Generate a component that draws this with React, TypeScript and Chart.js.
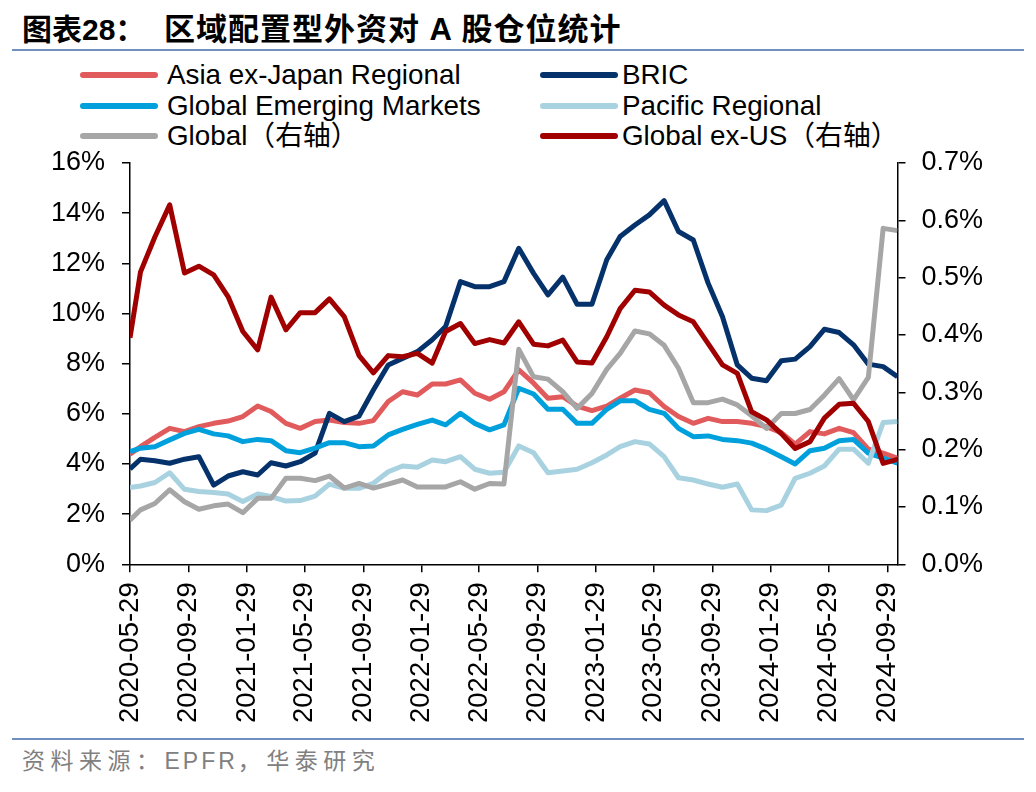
import React, { useEffect, useRef } from "react";
import { Chart, registerables } from "chart.js";

Chart.register(...registerables);

// ---- data ----
const dates = [
  "2020-05-29", "2020-06-20", "2020-07-20", "2020-08-20", "2020-09-20", "2020-10-20", "2020-11-20", "2020-12-20",
  "2021-01-20", "2021-02-20", "2021-03-20", "2021-04-20", "2021-05-20", "2021-06-20", "2021-07-20", "2021-08-20",
  "2021-09-20", "2021-10-20", "2021-11-20", "2021-12-20", "2022-01-20", "2022-02-20", "2022-03-20", "2022-04-20",
  "2022-05-20", "2022-06-20", "2022-07-20", "2022-08-20", "2022-09-20", "2022-10-20", "2022-11-20", "2022-12-20",
  "2023-01-20", "2023-02-20", "2023-03-20", "2023-04-20", "2023-05-20", "2023-06-20", "2023-07-20", "2023-08-20",
  "2023-09-20", "2023-10-20", "2023-11-20", "2023-12-20", "2024-01-20", "2024-02-20", "2024-03-20", "2024-04-20",
  "2024-05-20", "2024-06-20", "2024-07-20", "2024-08-20", "2024-09-20", "2024-10-20",
];

const tickLabels = [
  "2020-05-29", "2020-09-29", "2021-01-29", "2021-05-29", "2021-09-29", "2022-01-29", "2022-05-29",
  "2022-09-29", "2023-01-29", "2023-05-29", "2023-09-29", "2024-01-29", "2024-05-29", "2024-09-29",
];

const asiaExJapan = [
  4.39, 4.69, 5.06, 5.42, 5.29, 5.49, 5.62, 5.71, 5.89, 6.31, 6.09, 5.62, 5.42, 5.69,
  5.75, 5.65, 5.62, 5.73, 6.49, 6.88, 6.75, 7.19, 7.19, 7.35, 6.82, 6.58, 6.88,
  7.75, 7.22, 6.62, 6.68, 6.31, 6.13, 6.31, 6.62, 6.95, 6.84, 6.29, 5.89, 5.62,
  5.82, 5.69, 5.69, 5.62, 5.49, 5.25, 4.79, 5.29, 5.2, 5.42, 5.25, 4.59, 4.43, 4.23,
];

const bric = [
  3.8, 4.19, 4.13, 4.03, 4.19, 4.29, 3.16, 3.52, 3.69, 3.56, 4.05, 3.92, 4.09, 4.43,
  6.02, 5.69, 5.91, 6.95, 7.95, 8.21, 8.48, 8.95, 9.48, 11.27, 11.07, 11.07, 11.27,
  12.6, 11.6, 10.74, 11.45, 10.37, 10.37, 12.14, 13.07, 13.53, 13.93, 14.5, 13.27, 12.93,
  11.21, 9.87, 7.95, 7.42, 7.32, 8.12, 8.18, 8.68, 9.37, 9.24, 8.75, 7.98, 7.88, 7.48,
];

const globalEM = [
  4.49, 4.63, 4.69, 4.96, 5.22, 5.38, 5.2, 5.12, 4.89, 4.98, 4.93, 4.53, 4.45, 4.63,
  4.85, 4.85, 4.69, 4.72, 5.16, 5.38, 5.58, 5.75, 5.56, 6.02, 5.62, 5.36, 5.56,
  7.02, 6.79, 6.18, 6.18, 5.62, 5.62, 6.18, 6.52, 6.52, 6.18, 6.02, 5.42, 5.09,
  5.12, 4.98, 4.93, 4.83, 4.59, 4.29, 4.0, 4.53, 4.63, 4.93, 4.98, 4.43, 4.23, 4.03,
];

const pacific = [
  3.06, 3.12, 3.26, 3.65, 2.99, 2.9, 2.86, 2.8, 2.5, 2.8, 2.7, 2.52, 2.54, 2.72,
  3.2, 3.03, 3.03, 3.23, 3.69, 3.92, 3.87, 4.16, 4.09, 4.29, 3.79, 3.63, 3.67,
  4.72, 4.45, 3.65, 3.72, 3.79, 4.05, 4.36, 4.69, 4.89, 4.8, 4.29, 3.45, 3.36,
  3.2, 3.07, 3.2, 2.17, 2.14, 2.36, 3.43, 3.63, 3.92, 4.59, 4.59, 4.03, 5.65, 5.69,
];

const globalRight = [
  0.077, 0.095, 0.106, 0.13, 0.109, 0.096, 0.102, 0.105, 0.09, 0.115, 0.115, 0.15, 0.15, 0.146,
  0.154, 0.133, 0.141, 0.133, 0.14, 0.147, 0.135, 0.135, 0.135, 0.144, 0.131, 0.141, 0.14,
  0.375, 0.327, 0.323, 0.301, 0.272, 0.298, 0.34, 0.368, 0.407, 0.402, 0.382, 0.342, 0.282,
  0.282, 0.288, 0.278, 0.259, 0.237, 0.263, 0.263, 0.27, 0.295, 0.324, 0.287, 0.326, 0.586, 0.582,
];

const globalExUSRight = [
  0.395, 0.51, 0.571, 0.627, 0.508, 0.52, 0.505, 0.467, 0.406, 0.374, 0.466, 0.409, 0.439, 0.439,
  0.463, 0.432, 0.364, 0.334, 0.364, 0.362, 0.368, 0.351, 0.406, 0.42, 0.385, 0.392, 0.386,
  0.423, 0.384, 0.381, 0.391, 0.353, 0.351, 0.397, 0.446, 0.478, 0.475, 0.452, 0.435, 0.423,
  0.385, 0.348, 0.333, 0.266, 0.252, 0.228, 0.202, 0.214, 0.255, 0.279, 0.281, 0.249, 0.176, 0.183,
];

const leftTicks = [0, 2, 4, 6, 8, 10, 12, 14, 16];
const rightTicks = [0, 0.1, 0.2, 0.3, 0.4, 0.5, 0.6, 0.7];

const seriesNames = [
  "Asia ex-Japan Regional",
  "BRIC",
  "Global Emerging Markets",
  "Pacific Regional",
  "Global（右轴）",
  "Global ex-US（右轴）",
];
const seriesColors = ["#E15B5C", "#05326A", "#00A0DC", "#A9D2E1", "#A6A6A6", "#A00000"];

// ---- helpers ----
const dayOf = (s: string) => {
  const [y, m, d] = s.split("-").map(Number);
  const [y0, m0, d0] = dates[0].split("-").map(Number);
  return (Date.UTC(y, m - 1, d) - Date.UTC(y0, m0 - 1, d0)) / 86400000;
};

const FONT = '"Liberation Sans", Arial, "Noto Sans CJK SC", sans-serif';

export default function App() {
  const canvasRef = useRef<HTMLCanvasElement | null>(null);

  useEffect(() => {
    const canvas = canvasRef.current;
    if (!canvas) return;
    const xs = dates.map(dayOf);
    const mk = (vals: number[]) => vals.map((v, i) => ({ x: xs[i], y: v }));
    const allSeries = [asiaExJapan, bric, globalEM, pacific, globalRight, globalExUSRight];
    const datasets = allSeries.map((vals, i) => ({
      label: seriesNames[i],
      data: mk(vals),
      yAxisID: i >= 4 ? "y1" : "y",
      borderColor: seriesColors[i],
      backgroundColor: seriesColors[i],
      borderWidth: 5,
      pointRadius: 0,
      tension: 0,
      fill: false,
      borderJoinStyle: "round" as const,
      order: 5 - i,
    }));

    const yFont = { family: FONT, size: 27 };
    const xFont = { family: FONT, size: 27.5 };
    const noPad = (s: any) => {
      s.paddingTop = 0;
      s.paddingBottom = 0;
      s.paddingLeft = 0;
      s.paddingRight = 0;
    };
    const chart = new Chart(canvas, {
      type: "line",
      data: { datasets },
      options: {
        responsive: false,
        animation: false,
        layout: { padding: { top: 23, left: 0, right: 0, bottom: 0 } },
        plugins: { legend: { display: false }, tooltip: { enabled: false } },
        scales: {
          x: {
            type: "linear",
            min: 0,
            max: xs[xs.length - 1],
            afterBuildTicks: (s: any) => {
              s.ticks = tickLabels.map((d) => ({ value: dayOf(d) }));
            },
            afterFit: (s: any) => {
              s.height = 175.7;
              noPad(s);
            },
            grid: { drawOnChartArea: false, drawTicks: true, tickLength: 8, color: "#000", lineWidth: 1.5 },
            border: { display: true, color: "#000", width: 1.5 },
            ticks: {
              autoSkip: false,
              maxRotation: 90,
              minRotation: 90,
              padding: 10,
              color: "#000",
              font: xFont,
              callback: (_v: any, i: number) => tickLabels[i],
            },
          },
          y: {
            position: "left",
            min: 0,
            max: 16,
            afterBuildTicks: (s: any) => {
              s.ticks = leftTicks.map((v) => ({ value: v }));
            },
            afterFit: (s: any) => {
              s.width = 130;
              noPad(s);
            },
            grid: { drawOnChartArea: false, drawTicks: true, tickLength: 8, color: "#000", lineWidth: 1.5 },
            border: { display: true, color: "#000", width: 1.5 },
            ticks: {
              padding: 17,
              color: "#000",
              font: yFont,
              callback: (v: any) => `${v}%`,
            },
          },
          y1: {
            position: "right",
            min: 0,
            max: 0.7,
            afterBuildTicks: (s: any) => {
              s.ticks = rightTicks.map((v) => ({ value: v }));
            },
            afterFit: (s: any) => {
              s.width = 138.5;
              noPad(s);
            },
            grid: { drawOnChartArea: false, drawTicks: true, tickLength: 8, color: "#000", lineWidth: 1.5 },
            border: { display: true, color: "#000", width: 1.5 },
            ticks: {
              padding: 16,
              color: "#000",
              font: yFont,
              callback: (v: any) => `${Number(v).toFixed(1)}%`,
            },
          },
        },
      },
    } as any);
    return () => chart.destroy();
  }, []);

  const legendRows = [75, 106, 136];
  const legendItems = seriesNames.map((name, i) => ({
    name,
    color: seriesColors[i],
    col: i % 2,
    row: Math.floor(i / 2),
  }));

  return (
    <div
      style={{
        position: "absolute",
        left: 0,
        top: 0,
        width: 1036,
        height: 792,
        background: "#fff",
        overflow: "hidden",
      }}
    >
      {/* title */}
      <div
        style={{
          position: "absolute",
          left: 22,
          top: 11,
          height: 38,
          lineHeight: "38px",
          fontFamily: '"Liberation Sans", "Noto Sans CJK SC", sans-serif',
          fontWeight: 700,
          fontSize: 30,
          color: "#000",
          whiteSpace: "pre",
        }}
      >
        图表28：
      </div>
      <div
        style={{
          position: "absolute",
          left: 164,
          top: 11,
          height: 38,
          lineHeight: "38px",
          fontFamily: '"Liberation Sans", "Noto Sans CJK SC", sans-serif',
          fontWeight: 700,
          fontSize: 31,
          letterSpacing: 1,
          color: "#000",
          whiteSpace: "pre",
        }}
      >
        区域配置型外资对 A 股仓位统计
      </div>
      <div style={{ position: "absolute", left: 12, top: 49, width: 1012, height: 2, background: "#6F8FBF" }} />

      {/* legend */}
      {legendItems.map((it) => {
        const y = legendRows[it.row];
        const lx = it.col === 0 ? 80 : 540;
        const tx = it.col === 0 ? 167 : 622;
        return (
          <React.Fragment key={it.name}>
            <div
              style={{
                position: "absolute",
                left: lx,
                top: y - 3,
                width: 78,
                height: 6,
                borderRadius: 3,
                background: it.color,
              }}
            />
            <div
              style={{
                position: "absolute",
                left: tx,
                top: y - 18,
                height: 36,
                lineHeight: "36px",
                fontFamily: FONT,
                fontSize: 27.8,
                color: "#000",
                whiteSpace: "pre",
              }}
            >
              {it.name}
            </div>
          </React.Fragment>
        );
      })}

      {/* chart */}
      <canvas
        ref={canvasRef}
        width={1036}
        height={600}
        style={{ position: "absolute", left: 0, top: 140, width: 1036, height: 600 }}
      />

      {/* footer */}
      <div style={{ position: "absolute", left: 12, top: 738, width: 1012, height: 2, background: "#6F8FBF" }} />
      <div
        style={{
          position: "absolute",
          left: 22,
          top: 746,
          height: 30,
          lineHeight: "30px",
          fontFamily: '"Liberation Sans", "Noto Sans CJK SC", sans-serif',
          fontWeight: 400,
          fontSize: 23,
          letterSpacing: 5.5,
          color: "#808080",
          whiteSpace: "pre",
        }}
      >
        资料来源：<span style={{ letterSpacing: 3 }}>EPFR</span>，华泰研究
      </div>
    </div>
  );
}
